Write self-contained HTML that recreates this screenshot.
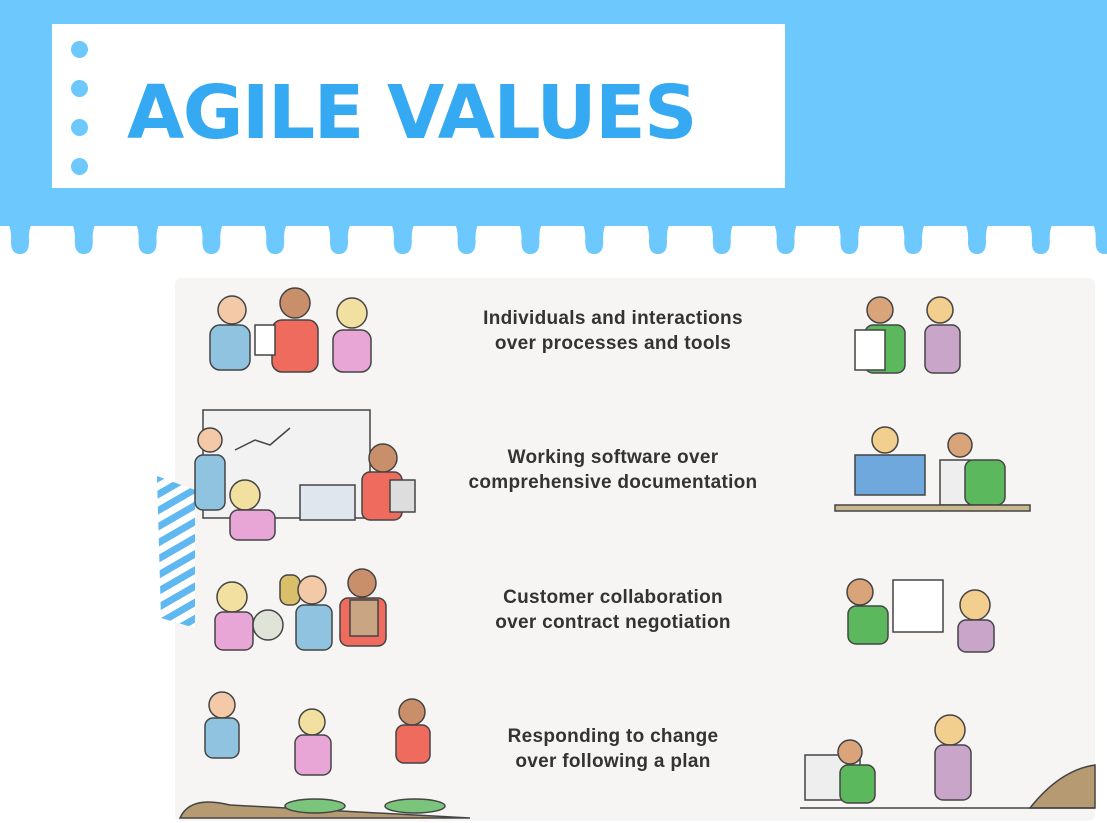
<!DOCTYPE html>
<html><head><meta charset="utf-8"><style>
body{margin:0;width:1107px;height:823px;overflow:hidden;background:#fff;font-family:"Liberation Sans",sans-serif;position:relative}
.a{position:absolute}
.t{position:absolute;width:400px;left:413px;text-align:center;font-weight:bold;font-size:19px;color:#333;line-height:25px;letter-spacing:0.3px}
</style></head><body>
<div class="a" style="left:0;top:0;width:1107px;height:226px;background:#6cc8fd"></div>
<svg class="a" style="left:0;top:220px" width="1107" height="40" id="drips"></svg>
<div class="a" style="left:52px;top:24px;width:733px;height:164px;background:#fff"></div>
<div class="a" style="left:71px;top:41px">
<div class="a" style="left:0;top:0;width:17px;height:17px;border-radius:50%;background:#6cc8fd"></div>
<div class="a" style="left:0;top:39px;width:17px;height:17px;border-radius:50%;background:#6cc8fd"></div>
<div class="a" style="left:0;top:78px;width:17px;height:17px;border-radius:50%;background:#6cc8fd"></div>
<div class="a" style="left:0;top:117px;width:17px;height:17px;border-radius:50%;background:#6cc8fd"></div>
</div>
<div class="a" style="left:127px;top:70px;font-size:74px;font-weight:900;color:#35a9f2;letter-spacing:-1.5px;font-family:'DejaVu Sans','Liberation Sans',sans-serif">AGILE VALUES</div>
<div class="a" style="left:175px;top:278px;width:920px;height:543px;background:#f6f5f4;border-radius:6px"></div>
<svg class="a" style="left:155px;top:476px" width="45" height="152">
<defs><pattern id="st" width="14" height="14" patternUnits="userSpaceOnUse" patternTransform="rotate(-30)"><rect width="14" height="7" fill="#5fb8f0"/><rect y="7" width="14" height="7" fill="#fff"/></pattern></defs>
<polygon points="2,0 40,14 40,152 6,142" fill="url(#st)"/></svg>
<div class="t" style="top:306px">Individuals and interactions<br>over processes and tools</div>
<div class="t" style="top:445px">Working software over<br>comprehensive documentation</div>
<div class="t" style="top:585px">Customer collaboration<br>over contract negotiation</div>
<div class="t" style="top:724px">Responding to change<br>over following a plan</div>
<svg class="a" style="left:0;top:0" width="1107" height="823">
<g stroke="#444" stroke-width="1.5">
<circle cx="232" cy="310" r="14" fill="#f3c9a8"/><rect x="210" y="325" width="40" height="45" rx="10" fill="#8fc3e0"/>
<circle cx="295" cy="303" r="15" fill="#c98f6a"/><rect x="272" y="320" width="46" height="52" rx="10" fill="#ee6b5d"/>
<circle cx="352" cy="313" r="15" fill="#f2e0a0"/><rect x="333" y="330" width="38" height="42" rx="10" fill="#e8a6d6"/>
<rect x="255" y="325" width="20" height="30" fill="#fff"/>
<circle cx="880" cy="310" r="13" fill="#d9a47a"/><rect x="865" y="325" width="40" height="48" rx="8" fill="#5cb85c"/><rect x="855" y="330" width="30" height="40" fill="#fff"/>
<circle cx="940" cy="310" r="13" fill="#f2cf8e"/><rect x="925" y="325" width="35" height="48" rx="8" fill="#c9a6c9"/>
<rect x="203" y="410" width="167" height="108" fill="#f2f2f2"/>
<polyline points="235,450 255,440 270,445 290,428" fill="none"/>
<circle cx="210" cy="440" r="12" fill="#f3c9a8"/><rect x="195" y="455" width="30" height="55" rx="8" fill="#8fc3e0"/>
<circle cx="245" cy="495" r="15" fill="#f2e0a0"/><rect x="230" y="510" width="45" height="30" rx="8" fill="#e8a6d6"/>
<rect x="300" y="485" width="55" height="35" fill="#dfe6ee"/>
<circle cx="383" cy="458" r="14" fill="#c98f6a"/><rect x="362" y="472" width="40" height="48" rx="8" fill="#ee6b5d"/><rect x="390" y="480" width="25" height="32" fill="#ddd"/>
<rect x="855" y="455" width="70" height="40" fill="#6fa8dc"/><circle cx="885" cy="440" r="13" fill="#f2cf8e"/>
<rect x="940" y="460" width="30" height="45" fill="#eee"/><circle cx="960" cy="445" r="12" fill="#d9a47a"/><rect x="965" y="460" width="40" height="45" rx="8" fill="#5cb85c"/>
<rect x="835" y="505" width="195" height="6" fill="#c8b890"/>
<circle cx="232" cy="597" r="15" fill="#f2e0a0"/><rect x="215" y="612" width="38" height="38" rx="8" fill="#e8a6d6"/><circle cx="268" cy="625" r="15" fill="#dfe3d8"/>
<rect x="280" y="575" width="20" height="30" rx="8" fill="#d9bf6a"/>
<circle cx="312" cy="590" r="14" fill="#f3c9a8"/><rect x="296" y="605" width="36" height="45" rx="8" fill="#8fc3e0"/>
<circle cx="362" cy="583" r="14" fill="#c98f6a"/><rect x="340" y="598" width="46" height="48" rx="8" fill="#ee6b5d"/><rect x="350" y="600" width="28" height="36" fill="#c9a583"/>
<circle cx="860" cy="592" r="13" fill="#d9a47a"/><rect x="848" y="606" width="40" height="38" rx="8" fill="#5cb85c"/>
<rect x="893" y="580" width="50" height="52" fill="#fff"/>
<circle cx="975" cy="605" r="15" fill="#f2cf8e"/><rect x="958" y="620" width="36" height="32" rx="8" fill="#c9a6c9"/>
<circle cx="222" cy="705" r="13" fill="#f3c9a8"/><rect x="205" y="718" width="34" height="40" rx="8" fill="#8fc3e0"/>
<circle cx="312" cy="722" r="13" fill="#f2e0a0"/><rect x="295" y="735" width="36" height="40" rx="8" fill="#e8a6d6"/>
<circle cx="412" cy="712" r="13" fill="#c98f6a"/><rect x="396" y="725" width="34" height="38" rx="8" fill="#ee6b5d"/>
<path d="M180,818 Q190,795 230,805 L470,818Z" fill="#b59a72"/>
<ellipse cx="315" cy="806" rx="30" ry="7" fill="#7bc47b"/><ellipse cx="415" cy="806" rx="30" ry="7" fill="#7bc47b"/>
<rect x="805" y="755" width="55" height="45" fill="#eee"/><circle cx="850" cy="752" r="12" fill="#d9a47a"/><rect x="840" y="765" width="35" height="38" rx="8" fill="#5cb85c"/>
<circle cx="950" cy="730" r="15" fill="#f2cf8e"/><rect x="935" y="745" width="36" height="55" rx="8" fill="#c9a6c9"/>
<path d="M1030,808 Q1060,770 1095,765 L1095,808Z" fill="#b59a72"/>
<line x1="800" y1="808" x2="1095" y2="808"/>
</g></svg>
<script>
var s=document.getElementById('drips'),h='';
for(var x=20;x<1120;x+=63.8){h+='<path d="M'+(x-14)+',0 Q'+(x-8)+',8 '+(x-9)+',22 Q'+(x-9)+',34 '+x+',34 Q'+(x+9)+',34 '+(x+9)+',22 Q'+(x+8)+',8 '+(x+14)+',0Z" fill="#6cc8fd"/>';}
s.innerHTML=h;
</script>
</body></html>
